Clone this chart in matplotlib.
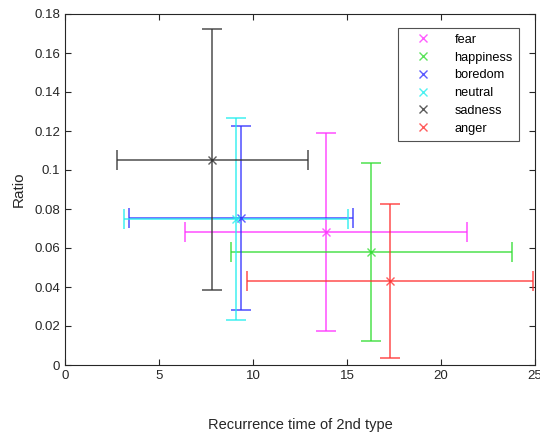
import matplotlib
matplotlib.use("Agg")
import matplotlib.pyplot as plt
from matplotlib.lines import Line2D

plt.rcParams['font.family'] = ['Liberation Sans', 'DejaVu Sans']

emotions = ['fear', 'happiness', 'boredom', 'neutral', 'sadness', 'anger']
colors = ['#ff33ff', '#33dd33', '#3333ff', '#22eeee', '#333333', '#ff3333']
x_mean = [13.87, 16.29, 9.36, 9.10, 7.84, 17.29]
x_err = [7.49, 7.47, 5.94, 5.97, 5.08, 7.60]
y_mean = [0.0682, 0.0581, 0.0755, 0.0749, 0.1053, 0.0432]
y_err = [0.0508, 0.0457, 0.0471, 0.0518, 0.0669, 0.0396]

fig = plt.figure(figsize=(5.4, 4.33), dpi=100)
ax = fig.add_axes([65/540, 68/433, 470/540, 351/433])

handles = []
for name, c, xm, xe, ym, ye in zip(emotions, colors, x_mean, x_err, y_mean, y_err):
    ax.errorbar(xm, ym, xerr=xe, yerr=ye, fmt='x', color=c, ecolor=c,
                elinewidth=1.2, capsize=7, capthick=1.2, markersize=6,
                alpha=0.8)
    handles.append(Line2D([], [], marker='x', linestyle='none', color=c,
                          markersize=6, alpha=0.8, label=name))

ax.set_xlim(0, 25)
ax.set_ylim(0, 0.18)
ax.set_xticks([0, 5, 10, 15, 20, 25])
ax.set_yticks([0, 0.02, 0.04, 0.06, 0.08, 0.1, 0.12, 0.14, 0.16, 0.18])
ax.set_yticklabels(['0', '0.02', '0.04', '0.06', '0.08', '0.1', '0.12', '0.14', '0.16', '0.18'])
ax.tick_params(direction='in', top=True, right=True, labelsize=9.5, colors='#262626', length=4)
for s in ax.spines.values():
    s.set_color('#262626')
    s.set_linewidth(0.8)

ax.set_xlabel('Recurrence time of 2nd type', fontsize=10.5, color='#262626', labelpad=26)
ax.set_ylabel('Ratio', fontsize=11, color='#262626', labelpad=6)

leg = ax.legend(handles=handles, loc='upper right', bbox_to_anchor=(519/470-65/470, 1 - 13.5/351),
                frameon=True, fancybox=False, edgecolor='#262626', fontsize=9.2,
                handlelength=2.9, handletextpad=1.0, borderpad=0.5, labelspacing=0.45,
                borderaxespad=0)
leg.get_frame().set_linewidth(0.8)

fig.savefig('out.png', dpi=100)
